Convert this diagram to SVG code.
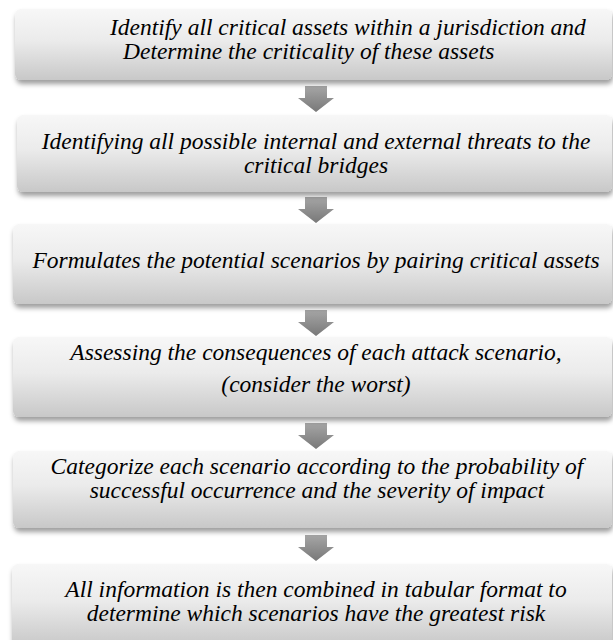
<svg xmlns="http://www.w3.org/2000/svg" width="613" height="640" viewBox="0 0 613 640">
<defs>
<linearGradient id="boxg" x1="0" y1="0" x2="0" y2="1">
<stop offset="0" stop-color="#f7f7f7"/>
<stop offset="0.45" stop-color="#ebebeb"/>
<stop offset="1" stop-color="#c8c8c8"/>
</linearGradient>
<linearGradient id="arrg" x1="0" y1="0" x2="0" y2="1">
<stop offset="0" stop-color="#a6a6a6"/>
<stop offset="1" stop-color="#787878"/>
</linearGradient>
<filter id="sh" x="-5%" y="-20%" width="110%" height="150%">
<feDropShadow dx="1" dy="4" stdDeviation="2.5" flood-color="#000" flood-opacity="0.38"/>
</filter>
<filter id="ash" x="-30%" y="-30%" width="160%" height="160%">
<feGaussianBlur stdDeviation="0.6"/>
</filter>
</defs>
<style>
.box{fill:url(#boxg);filter:url(#sh);}
.t{font-family:"Liberation Serif","Times New Roman","DejaVu Serif",serif;font-style:italic;font-size:23.5px;fill:#000;}
.c{text-anchor:middle;}
.arr{fill:url(#arrg);filter:url(#ash);}
</style>
<rect width="613" height="640" fill="#fff"/>
<g id="connectors">
<path class="arr" d="M305,86 H327 V98 H334 L316,112 L298,98 H305 Z"/>
<path class="arr" d="M305,197 H327 V209 H334 L316,223 L298,209 H305 Z"/>
<path class="arr" d="M305,310 H327 V322 H334 L316,336 L298,322 H305 Z"/>
<path class="arr" d="M305,423 H327 V435 H334 L316,449 L298,435 H305 Z"/>
<path class="arr" d="M305,535 H327 V547 H334 L316,561 L298,547 H305 Z"/>
</g>
<g id="node1">
<rect class="box" x="15" y="9" width="597" height="71" rx="6"/>
<text class="t" x="110" y="34.5">Identify all critical assets within a jurisdiction and</text>
<text class="t" x="123" y="58.5">Determine the criticality of these assets</text>
</g>
<g id="node2">
<rect class="box" x="17" y="115" width="595" height="77" rx="6"/>
<text class="t c" x="316" y="148.5">Identifying all possible internal and external threats to the</text>
<text class="t c" x="316" y="172.5">critical bridges</text>
</g>
<g id="node3">
<rect class="box" x="13" y="224" width="599" height="80" rx="6"/>
<text class="t c" x="316" y="268">Formulates the potential scenarios by pairing critical assets</text>
</g>
<g id="node4">
<rect class="box" x="13" y="337" width="599" height="80" rx="6"/>
<text class="t c" x="316" y="360">Assessing the consequences of each attack scenario,</text>
<text class="t c" x="316" y="392">(consider the worst)</text>
</g>
<g id="node5">
<rect class="box" x="13" y="451" width="599" height="77" rx="6"/>
<text class="t c" x="317" y="473.5">Categorize each scenario according to the probability of</text>
<text class="t c" x="317" y="497.5">successful occurrence and the severity of impact</text>
</g>
<g id="node6">
<rect class="box" x="12" y="564" width="600" height="82" rx="6"/>
<text class="t c" x="316" y="596.5">All information is then combined in tabular format to</text>
<text class="t c" x="316" y="620.5">determine which scenarios have the greatest risk</text>
</g>
</svg>
